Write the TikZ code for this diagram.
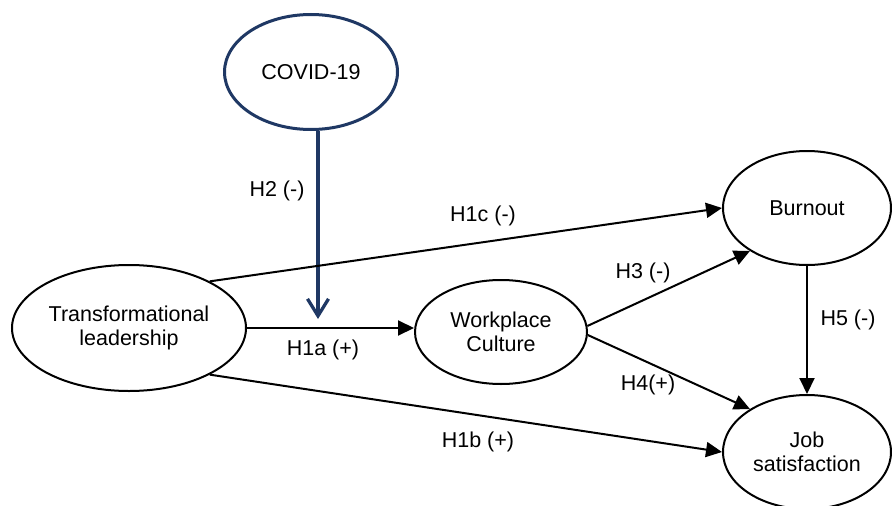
\documentclass[tikz,border=0pt]{standalone}
\usepackage{fontspec}
\setmainfont{Liberation Sans}
\usetikzlibrary{shapes.geometric,arrows.meta}

\definecolor{navy}{RGB}{31,56,100}

\tikzset{
  construct/.style={ellipse, draw, line width=2pt, inner sep=0pt,
    align=center, font=\fontsize{21.5}{24.5}\selectfont},
  hyp/.style={line width=2pt, -{Triangle[length=16pt,width=15pt]}},
  hyplabel/.style={inner sep=0pt, font=\fontsize{21.5}{24.5}\selectfont}
}

\begin{document}
\begin{tikzpicture}[x=1pt,y=-1pt]
  \useasboundingbox (0,0) rectangle (892,506);

  % constructs
  \node[construct, minimum width=234pt, minimum height=126pt] (trans) at (129,328)
    {Transformational\\leadership};
  \node[construct, draw=navy, line width=3pt, minimum width=173pt,
    minimum height=115pt] (covid) at (311,72) {COVID-19};
  \node[construct, minimum width=172pt, minimum height=104pt] (culture) at (501,332)
    {Workplace\\Culture};
  \node[construct, minimum width=168pt, minimum height=114pt] (burnout) at (807,208)
    {Burnout};
  \node[construct, minimum width=168pt, minimum height=114pt] (jobsat) at (807,452)
    {Job\\satisfaction};

  % moderator
  \coordinate (h2end) at (318,319);
  \draw[navy, line width=3.3pt, -{Straight Barb[length=17pt,width=21pt]}]
    (h2end |- covid.south) -- (h2end);

  % paths
  \draw[hyp] (trans.east) -- (trans.east -| culture.west);
  \draw[hyp] (trans.30) -- (burnout.west);
  \draw[hyp] (trans.-30) -- (jobsat.west);
  \draw[hyp] (culture.4) -- (burnout.217);
  \draw[hyp] (culture.-2) -- (jobsat.143);
  \draw[hyp] (burnout.south) -- (jobsat.north);

  % labels
  \node[hyplabel] (lh2) at (277,191) {H2 (-)};
  \node[hyplabel] (lh1c) at (483,216) {H1c (-)};
  \node[hyplabel] (lh1a) at (323,350) {H1a (+)};
  \node[hyplabel] (lh3) at (643,273) {H3 (-)};
  \node[hyplabel] (lh4) at (648,385) {H4(+)};
  \node[hyplabel] (lh1b) at (478,442) {H1b (+)};
  \node[hyplabel] (lh5) at (848,320) {H5 (-)};
\end{tikzpicture}
\end{document}
